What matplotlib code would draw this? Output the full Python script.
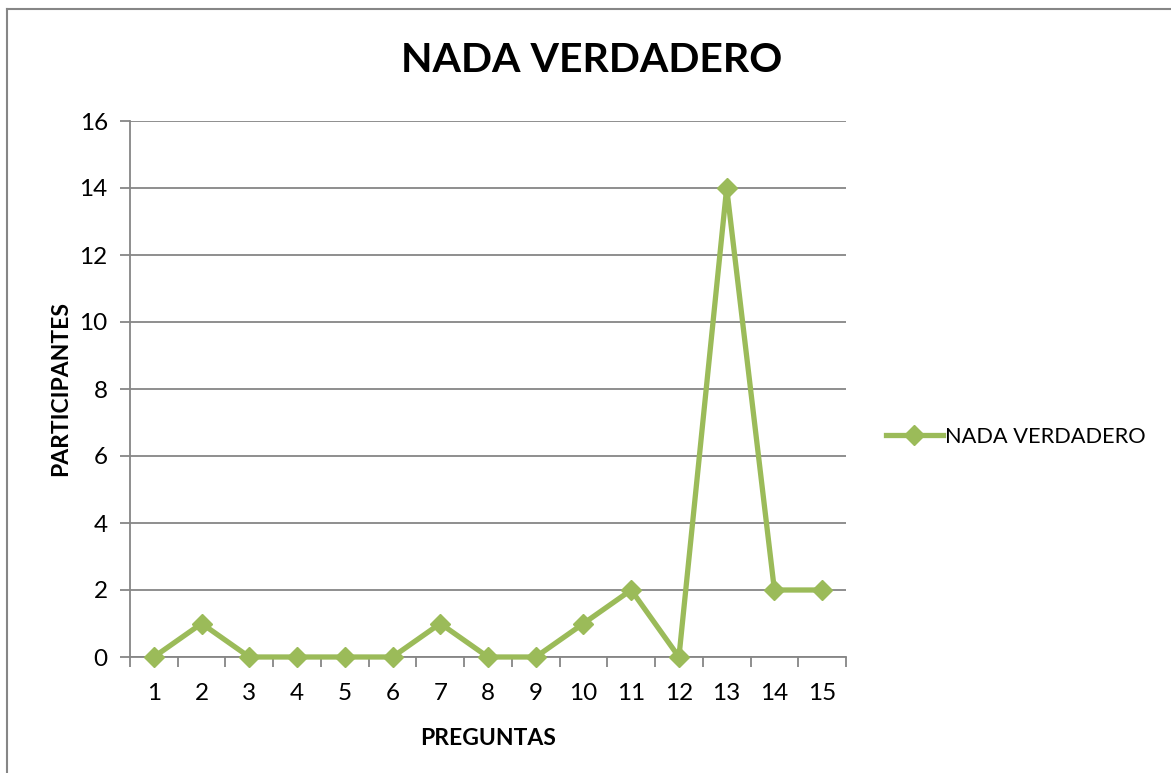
import matplotlib
matplotlib.use("Agg")
import matplotlib.pyplot as plt
import matplotlib.ticker as tck
from matplotlib.lines import Line2D

preguntas = list(range(1, 16))
participantes = [0, 1, 0, 0, 0, 0, 1, 0, 0, 1, 2, 0, 14, 2, 2]
serie = "NADA VERDADERO"
y_ticks = [0, 2, 4, 6, 8, 10, 12, 14, 16]

green = "#9BBB59"
gray = "#868686"
plt.rcParams['font.family'] = ['Lato', 'DejaVu Sans']

fig = plt.figure(figsize=(11.71, 7.73), dpi=100)
ax = fig.add_axes([130 / 1171, 1 - 657 / 773, (846 - 130) / 1171, (657 - 121) / 773])

ax.plot(preguntas, participantes, color=green, lw=3.8, marker='D', markersize=10,
        label=serie, zorder=3, clip_on=False)

ax.set_xlim(0.5, 15.5)
ax.set_ylim(0, 16)
ax.set_yticks(y_ticks)
ax.grid(axis='y', color=gray, lw=1.3)
ax.set_axisbelow(True)

# category boundaries as major ticks, labels on the minor ones
ax.xaxis.set_major_locator(tck.FixedLocator([i + 0.5 for i in range(0, 16)]))
ax.xaxis.set_major_formatter(tck.NullFormatter())
ax.xaxis.set_minor_locator(tck.FixedLocator(preguntas))
ax.xaxis.set_minor_formatter(tck.FixedFormatter([str(p) for p in preguntas]))
ax.tick_params(axis='x', which='major', length=7, width=1.3, color=gray, direction='out')
ax.tick_params(axis='x', which='minor', length=0, labelsize=17.5, pad=19)
ax.tick_params(axis='y', length=7, width=1.3, color=gray, labelsize=17.5, pad=9)

for s in ['top', 'right']:
    ax.spines[s].set_visible(False)
for s in ['left', 'bottom']:
    ax.spines[s].set_color(gray)
    ax.spines[s].set_linewidth(1.3)

ax.set_xlabel("PREGUNTAS", fontsize=16.5, fontweight='bold', labelpad=17)
ax.set_ylabel("PARTICIPANTES", fontsize=16.5, fontweight='bold', labelpad=6)
fig.text(592 / 1171, 1 - 60 / 773, serie, fontsize=29.5, fontweight='bold',
         ha='center', va='center')

ax.legend(loc='center left', bbox_to_anchor=(886 / 1171, 1 - 437 / 773),
          bbox_transform=fig.transFigure, frameon=False, fontsize=15.7,
          handlelength=2.6, handletextpad=0.1, borderpad=0, borderaxespad=0)

# outer chart border (only left and top visible in the crop)
fig.add_artist(Line2D([7 / 1171, 7 / 1171], [0, 1 - 9 / 773], color=gray, lw=1.5))
fig.add_artist(Line2D([7 / 1171, 1], [1 - 9 / 773, 1 - 9 / 773], color=gray, lw=1.5))

fig.savefig("out.png", dpi=100)
